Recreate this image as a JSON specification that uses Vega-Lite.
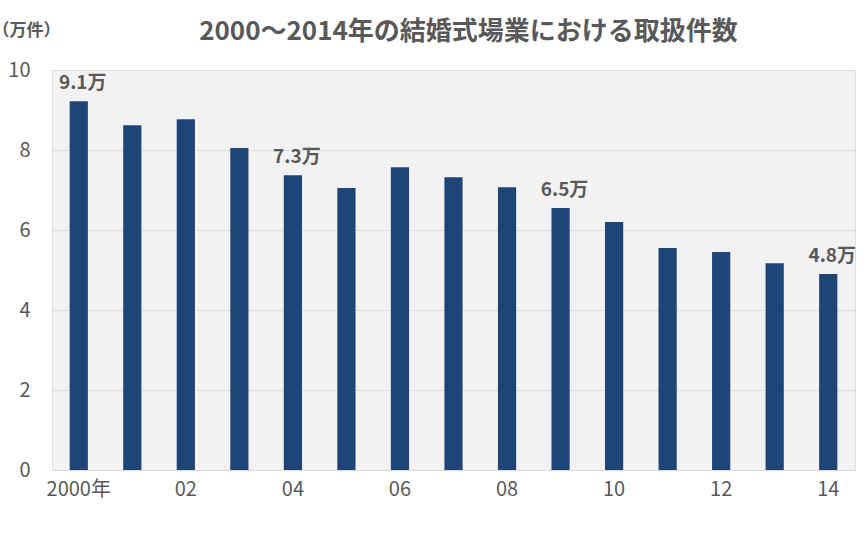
{
  "$schema": "https://vega.github.io/schema/vega-lite/v6.json",
  "autosize": {"type": "none"},
  "padding": {"left": 52, "top": 70, "right": 9, "bottom": 67},
  "width": 803,
  "height": 400,
  "background": "white",
  "title": {
    "text": "2000～2014年の結婚式場業における取扱件数",
    "font": "Noto Sans CJK JP",
    "fontSize": 26,
    "fontWeight": "bold",
    "color": "#595959",
    "anchor": "middle",
    "baseline": "alphabetic",
    "dx": 15,
    "offset": -45
  },
  "data": {
    "values": [
      {"year": "2000", "count": 9.22, "label": "9.1万"},
      {"year": "2001", "count": 8.62, "label": ""},
      {"year": "2002", "count": 8.77, "label": ""},
      {"year": "2003", "count": 8.05, "label": ""},
      {"year": "2004", "count": 7.37, "label": "7.3万"},
      {"year": "2005", "count": 7.05, "label": ""},
      {"year": "2006", "count": 7.57, "label": ""},
      {"year": "2007", "count": 7.32, "label": ""},
      {"year": "2008", "count": 7.07, "label": ""},
      {"year": "2009", "count": 6.55, "label": "6.5万"},
      {"year": "2010", "count": 6.2, "label": ""},
      {"year": "2011", "count": 5.55, "label": ""},
      {"year": "2012", "count": 5.45, "label": ""},
      {"year": "2013", "count": 5.17, "label": ""},
      {"year": "2014", "count": 4.9, "label": "4.8万"}
    ]
  },
  "encoding": {
    "x": {
      "field": "year",
      "type": "ordinal",
      "scale": {"paddingInner": 0.66, "paddingOuter": 0.33},
      "axis": {
        "title": null,
        "labelAngle": 0,
        "ticks": false,
        "domain": false,
        "labelFont": "Noto Sans CJK JP",
        "labelFontSize": 20,
        "labelColor": "#595959",
        "labelPadding": 9,
        "labelExpr": "datum.value == '2000' ? '2000年' : (toNumber(datum.value) % 2 == 0 ? substring(datum.value, 2) : '')"
      }
    },
    "y": {
      "field": "count",
      "type": "quantitative",
      "scale": {"domain": [0, 10]},
      "axis": {
        "values": [0, 2, 4, 6, 8, 10],
        "title": "（万件）",
        "titleAngle": 0,
        "titleAlign": "left",
        "titleBaseline": "middle",
        "titleX": -60,
        "titleY": -40,
        "titleFont": "Noto Sans CJK JP",
        "titleFontSize": 17,
        "titleFontWeight": "bold",
        "titleColor": "#595959",
        "ticks": false,
        "domain": false,
        "labelFont": "Noto Sans CJK JP",
        "labelFontSize": 20,
        "labelColor": "#595959",
        "labelPadding": 22,
        "gridColor": "#dcdcdc",
        "gridWidth": 1
      }
    }
  },
  "layer": [
    {"mark": {"type": "bar", "color": "#1f4477"}},
    {
      "mark": {
        "type": "text",
        "baseline": "alphabetic",
        "dy": -12,
        "dx": 4,
        "font": "Noto Sans CJK JP",
        "fontSize": 19,
        "fontWeight": "bold",
        "color": "#595959"
      },
      "encoding": {"text": {"field": "label"}}
    }
  ],
  "config": {
    "view": {"fill": "#f2f2f2", "stroke": "#e0e0e0"}
  }
}
